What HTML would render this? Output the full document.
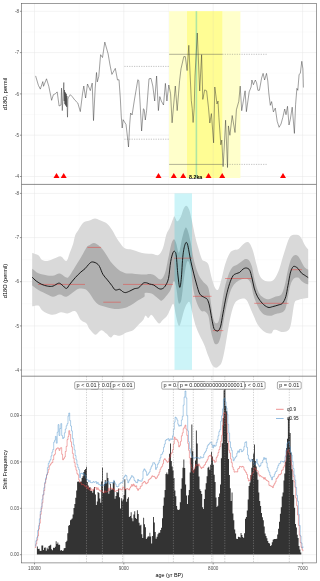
<!DOCTYPE html>
<html lang="en"><head><meta charset="utf-8"><title>d18O change-point analysis</title>
<style>html,body{margin:0;padding:0;background:#fff;}body{width:320px;height:581px;overflow:hidden;}svg{display:block;}text{font-family:'Liberation Sans', Arial, Helvetica, sans-serif;}</style></head><body>
<svg width="320" height="581" viewBox="0 0 320 581">
<rect x="0" y="0" width="320" height="581" fill="#ffffff"/>
<g id="panel1">
<line x1="79.2" y1="3.4" x2="79.2" y2="184.4" stroke="#f0f0f0" stroke-width="0.3"/>
<line x1="168.5" y1="3.4" x2="168.5" y2="184.4" stroke="#f0f0f0" stroke-width="0.3"/>
<line x1="257.9" y1="3.4" x2="257.9" y2="184.4" stroke="#f0f0f0" stroke-width="0.3"/>
<line x1="21.5" y1="32.0" x2="316.3" y2="32.0" stroke="#f0f0f0" stroke-width="0.3"/>
<line x1="21.5" y1="73.2" x2="316.3" y2="73.2" stroke="#f0f0f0" stroke-width="0.3"/>
<line x1="21.5" y1="114.5" x2="316.3" y2="114.5" stroke="#f0f0f0" stroke-width="0.3"/>
<line x1="21.5" y1="155.8" x2="316.3" y2="155.8" stroke="#f0f0f0" stroke-width="0.3"/>
<line x1="34.5" y1="3.4" x2="34.5" y2="184.4" stroke="#e6e6e6" stroke-width="0.5"/>
<line x1="123.8" y1="3.4" x2="123.8" y2="184.4" stroke="#e6e6e6" stroke-width="0.5"/>
<line x1="213.2" y1="3.4" x2="213.2" y2="184.4" stroke="#e6e6e6" stroke-width="0.5"/>
<line x1="302.6" y1="3.4" x2="302.6" y2="184.4" stroke="#e6e6e6" stroke-width="0.5"/>
<line x1="21.5" y1="11.3" x2="316.3" y2="11.3" stroke="#e6e6e6" stroke-width="0.5"/>
<line x1="21.5" y1="52.6" x2="316.3" y2="52.6" stroke="#e6e6e6" stroke-width="0.5"/>
<line x1="21.5" y1="93.9" x2="316.3" y2="93.9" stroke="#e6e6e6" stroke-width="0.5"/>
<line x1="21.5" y1="135.2" x2="316.3" y2="135.2" stroke="#e6e6e6" stroke-width="0.5"/>
<line x1="21.5" y1="176.5" x2="316.3" y2="176.5" stroke="#e6e6e6" stroke-width="0.5"/>
<rect x="169.1" y="11.2" width="71.3" height="166.8" fill="#ffffcb"/>
<rect x="187" y="11.2" width="35.3" height="166.8" fill="#fffd94"/>
<line x1="213.2" y1="11.2" x2="213.2" y2="178" stroke="#e9e7a0" stroke-width="0.5"/>
<line x1="196.4" y1="11.2" x2="196.4" y2="178" stroke="#b0e5a2" stroke-width="1.6"/>
<line x1="169.1" y1="54.3" x2="222.3" y2="54.3" stroke="#555" stroke-width="0.45"/>
<line x1="222.3" y1="54.3" x2="267" y2="54.3" stroke="#777" stroke-width="0.45" stroke-dasharray="1.2,1.2"/>
<line x1="169.1" y1="164.4" x2="222.3" y2="164.4" stroke="#555" stroke-width="0.45"/>
<line x1="222.3" y1="164.4" x2="267" y2="164.4" stroke="#777" stroke-width="0.45" stroke-dasharray="1.2,1.2"/>
<line x1="124.4" y1="66.4" x2="169.1" y2="66.4" stroke="#777" stroke-width="0.45" stroke-dasharray="1.2,1.2"/>
<line x1="124.4" y1="139.2" x2="169.1" y2="139.2" stroke="#777" stroke-width="0.45" stroke-dasharray="1.2,1.2"/>
<polyline points="35.6,75.9 38.4,85.3 40.3,89.1 42.8,81.6 43.5,86.3 46.5,78.8 48.8,86.3 51.6,100.3 53.4,94.7 55.3,93.8 57.2,91.9 59.1,106.0 61.0,105.0 61.5,88.1 62.3,110.6 63.8,82.5 64.2,101.0 64.5,90.0 64.8,104.0 65.1,92.0 65.4,105.0 65.7,93.0 66.0,106.0 66.3,94.0 66.6,107.0 66.9,96.0 67.2,108.0 67.5,117.2 67.9,99.0 68.4,97.5 70.3,94.7 72.2,96.6 75.0,100.3 77.8,103.0 80.3,111.6 82.5,93.8 83.8,86.0 85.6,98.0 87.5,84.0 90.3,90.6 92.2,83.1 93.5,120.6 95.2,88.0 96.5,72.5 97.3,81.9 98.8,76.3 100.6,54.7 102.5,57.5 104.8,42.1 108.1,53.8 110.0,65.0 111.9,74.4 115.3,68.4 117.5,80.0 119.0,79.7 120.3,98.0 121.3,117.0 122.2,128.0 123.1,119.7 126.0,124.4 127.8,140.0 128.5,147.0 129.7,124.4 130.6,113.0 132.1,115.0 134.4,100.0 136.3,88.8 137.8,79.7 138.8,80.6 140.3,107.0 141.6,131.0 143.4,108.8 144.2,109.5 145.3,120.0 146.6,110.6 149.0,78.8 151.0,78.4 152.8,86.0 154.7,101.0 156.6,76.0 158.4,110.6 159.8,96.6 161.3,101.0 163.5,105.0 165.4,83.4 166.9,101.0 168.8,85.0 170.6,93.8 172.1,122.8 175.3,86.0 177.2,110.6 179.6,80.6 181.0,68.8 183.8,56.6 185.3,56.6 187.1,70.6 188.8,45.3 191.3,100.6 192.2,108.4 193.1,122.5 194.2,108.0 195.0,76.0 197.3,33.0 199.7,91.0 201.6,54.7 202.8,99.4 204.7,89.9 206.6,90.8 208.5,107.9 209.8,123.0 211.4,113.6 213.6,142.9 214.8,87.0 217.0,104.0 218.0,101.0 218.9,117.3 220.8,144.8 221.8,140.0 223.1,166.6 224.0,151.4 225.6,120.2 227.5,167.5 228.4,125.9 229.9,135.3 232.2,115.5 235.0,132.5 236.4,109.8 238.8,101.3 240.2,86.1 241.7,110.7 245.1,90.8 246.4,111.7 249.2,91.8 251.1,87.0 251.9,80.0 253.4,84.7 255.3,80.0 256.6,82.8 257.9,90.3 259.4,90.3 261.6,78.1 263.1,73.4 264.6,80.0 266.5,73.4 267.8,81.0 268.8,93.1 270.3,105.3 271.6,101.6 273.4,111.9 275.3,108.1 277.2,121.3 279.1,127.3 281.0,124.0 282.8,117.5 284.7,109.0 286.0,114.7 287.5,106.3 289.0,125.0 290.3,119.4 292.2,107.2 294.4,133.4 295.6,104.4 296.9,88.4 297.8,90.3 299.1,74.4 300.3,73.4 301.8,61.3 302.9,68.8 303.4,87.5" fill="none" stroke="#2e2e2e" stroke-width="0.46" stroke-linejoin="round"/>
<polygon points="56.5,172.9 53.5,178.1 59.5,178.1" fill="#ff0000"/>
<polygon points="63.7,172.9 60.7,178.1 66.7,178.1" fill="#ff0000"/>
<polygon points="158.5,172.9 155.5,178.1 161.5,178.1" fill="#ff0000"/>
<polygon points="173.8,172.9 170.8,178.1 176.8,178.1" fill="#ff0000"/>
<polygon points="183.2,172.9 180.2,178.1 186.2,178.1" fill="#ff0000"/>
<polygon points="208.5,172.9 205.5,178.1 211.5,178.1" fill="#ff0000"/>
<polygon points="222.2,172.9 219.2,178.1 225.2,178.1" fill="#ff0000"/>
<polygon points="283.0,172.9 280.0,178.1 286.0,178.1" fill="#ff0000"/>
<text x="195.7" y="179.2" font-size="5.3" font-weight="bold" fill="#000" text-anchor="middle">8.2ka</text>
<line x1="19.9" y1="11.3" x2="21.5" y2="11.3" stroke="#333" stroke-width="0.5"/>
<text x="19.1" y="12.9" font-size="4.6" fill="#4d4d4d" text-anchor="end">-8</text>
<line x1="19.9" y1="52.6" x2="21.5" y2="52.6" stroke="#333" stroke-width="0.5"/>
<text x="19.1" y="54.2" font-size="4.6" fill="#4d4d4d" text-anchor="end">-7</text>
<line x1="19.9" y1="93.9" x2="21.5" y2="93.9" stroke="#333" stroke-width="0.5"/>
<text x="19.1" y="95.5" font-size="4.6" fill="#4d4d4d" text-anchor="end">-6</text>
<line x1="19.9" y1="135.2" x2="21.5" y2="135.2" stroke="#333" stroke-width="0.5"/>
<text x="19.1" y="136.8" font-size="4.6" fill="#4d4d4d" text-anchor="end">-5</text>
<line x1="19.9" y1="176.5" x2="21.5" y2="176.5" stroke="#333" stroke-width="0.5"/>
<text x="19.1" y="178.1" font-size="4.6" fill="#4d4d4d" text-anchor="end">-4</text>
<text transform="translate(7.4,94.0) rotate(-90)" font-size="5.65" fill="#000" text-anchor="middle">d18O, permil</text>
</g>
<g id="panel2">
<line x1="79.2" y1="184.4" x2="79.2" y2="376.2" stroke="#f0f0f0" stroke-width="0.3"/>
<line x1="168.5" y1="184.4" x2="168.5" y2="376.2" stroke="#f0f0f0" stroke-width="0.3"/>
<line x1="257.9" y1="184.4" x2="257.9" y2="376.2" stroke="#f0f0f0" stroke-width="0.3"/>
<line x1="21.5" y1="215.5" x2="316.3" y2="215.5" stroke="#f0f0f0" stroke-width="0.3"/>
<line x1="21.5" y1="259.6" x2="316.3" y2="259.6" stroke="#f0f0f0" stroke-width="0.3"/>
<line x1="21.5" y1="303.8" x2="316.3" y2="303.8" stroke="#f0f0f0" stroke-width="0.3"/>
<line x1="21.5" y1="347.9" x2="316.3" y2="347.9" stroke="#f0f0f0" stroke-width="0.3"/>
<line x1="34.5" y1="184.4" x2="34.5" y2="376.2" stroke="#e6e6e6" stroke-width="0.5"/>
<line x1="123.8" y1="184.4" x2="123.8" y2="376.2" stroke="#e6e6e6" stroke-width="0.5"/>
<line x1="213.2" y1="184.4" x2="213.2" y2="376.2" stroke="#e6e6e6" stroke-width="0.5"/>
<line x1="302.6" y1="184.4" x2="302.6" y2="376.2" stroke="#e6e6e6" stroke-width="0.5"/>
<line x1="21.5" y1="193.4" x2="316.3" y2="193.4" stroke="#e6e6e6" stroke-width="0.5"/>
<line x1="21.5" y1="237.6" x2="316.3" y2="237.6" stroke="#e6e6e6" stroke-width="0.5"/>
<line x1="21.5" y1="281.7" x2="316.3" y2="281.7" stroke="#e6e6e6" stroke-width="0.5"/>
<line x1="21.5" y1="325.9" x2="316.3" y2="325.9" stroke="#e6e6e6" stroke-width="0.5"/>
<line x1="21.5" y1="370.0" x2="316.3" y2="370.0" stroke="#e6e6e6" stroke-width="0.5"/>
<path d="M32.2,253.0 C33.2,253.4 36.8,254.2 38.4,255.3 C40.0,256.4 40.3,258.8 41.8,259.7 C43.3,260.6 45.3,261.1 47.4,260.9 C49.5,260.7 51.9,259.4 54.1,258.6 C56.3,257.9 58.8,256.0 60.8,256.4 C62.8,256.8 64.9,261.5 66.4,260.9 C67.9,260.3 68.6,255.8 69.7,253.0 C70.8,250.2 72.2,247.1 73.1,244.1 C74.0,241.1 74.4,237.5 75.3,235.1 C76.2,232.7 77.4,231.6 78.7,229.5 C80.0,227.4 81.4,224.3 83.2,222.8 C85.0,221.3 87.5,221.3 89.5,220.6 C91.5,219.9 93.1,218.4 95.0,218.4 C96.9,218.4 98.6,219.7 100.7,220.6 C102.8,221.5 105.6,222.5 107.4,224.0 C109.2,225.5 110.3,227.3 111.8,229.5 C113.3,231.7 114.8,235.0 116.3,237.4 C117.8,239.8 119.3,242.2 120.8,244.1 C122.3,246.0 123.4,247.7 125.3,248.6 C127.2,249.5 129.8,249.1 132.0,249.7 C134.2,250.2 136.5,251.3 138.7,251.9 C140.9,252.5 143.2,253.2 145.4,253.5 C147.6,253.8 149.5,253.6 151.7,253.8 C153.9,254.0 156.5,255.8 158.4,254.9 C160.3,254.0 161.6,251.6 162.9,248.2 C164.2,244.8 165.2,238.1 166.3,234.7 C167.4,231.3 168.5,230.6 169.6,228.0 C170.7,225.4 172.2,221.0 173.0,219.1 C173.8,217.2 173.8,216.0 174.5,216.4 C175.2,216.8 176.3,221.2 177.4,221.3 C178.5,221.4 179.8,218.9 180.8,216.8 C181.8,214.8 182.6,210.8 183.5,209.0 C184.4,207.2 185.4,205.5 186.4,205.7 C187.4,205.9 188.4,207.5 189.3,210.1 C190.2,212.7 191.0,216.8 192.0,221.3 C193.0,225.8 194.2,232.3 195.3,237.0 C196.4,241.7 197.6,245.6 198.7,249.3 C199.8,253.0 200.9,257.4 202.0,259.4 C203.1,261.4 203.9,260.4 205.0,261.3 C206.1,262.2 207.3,261.8 208.4,264.6 C209.5,267.4 210.6,274.1 211.7,278.0 C212.8,281.9 214.0,286.2 215.1,288.1 C216.2,290.0 217.3,290.9 218.4,289.2 C219.5,287.5 220.7,282.1 221.8,278.0 C222.9,273.9 223.8,268.7 225.1,264.6 C226.4,260.5 228.1,255.8 229.6,253.4 C231.1,251.0 232.6,250.8 234.1,250.1 C235.6,249.3 237.1,249.8 238.6,248.9 C240.1,248.0 241.7,245.6 243.0,244.5 C244.3,243.4 245.3,242.4 246.4,242.2 C247.5,242.0 248.6,241.9 249.7,243.4 C250.8,244.9 252.0,247.7 253.1,251.2 C254.2,254.7 255.4,260.5 256.5,264.6 C257.6,268.7 258.5,273.2 259.8,275.8 C261.1,278.4 262.6,279.6 264.3,280.5 C266.0,281.4 268.4,281.8 270.1,281.5 C271.8,281.2 273.1,280.7 274.6,278.7 C276.1,276.7 277.8,273.0 279.1,269.7 C280.4,266.4 281.3,262.3 282.4,258.6 C283.5,254.9 284.7,250.8 285.8,247.4 C286.9,244.0 288.0,240.5 289.1,238.4 C290.2,236.3 291.0,235.7 292.5,235.1 C294.0,234.5 296.6,234.5 298.1,235.1 C299.6,235.7 300.4,236.7 301.5,238.4 C302.6,240.1 303.7,243.2 304.8,245.1 C305.9,247.0 307.6,248.8 308.2,249.6 L308.2,297.7 C307.3,297.9 304.3,298.4 302.6,298.8 C300.9,299.2 299.4,299.3 298.1,299.9 C296.8,300.5 295.6,299.8 294.7,302.2 C293.8,304.6 293.2,310.4 292.5,314.5 C291.8,318.6 291.2,324.0 290.3,326.8 C289.4,329.6 288.4,330.5 286.9,331.3 C285.4,332.1 283.0,332.1 281.3,331.9 C279.6,331.7 278.1,330.4 276.8,330.1 C275.5,329.8 274.4,329.5 273.5,330.1 C272.6,330.7 272.6,333.1 271.3,333.5 C270.0,333.9 267.4,333.1 265.7,332.4 C264.0,331.6 262.5,330.3 261.2,329.0 C259.9,327.7 258.8,326.5 257.6,324.5 C256.4,322.5 255.3,319.5 254.2,317.0 C253.1,314.5 252.0,312.0 250.9,309.4 C249.8,306.8 248.6,303.3 247.5,301.5 C246.4,299.7 245.4,299.0 244.1,298.6 C242.8,298.2 241.2,298.6 239.7,299.3 C238.2,300.0 236.5,300.6 235.2,302.6 C233.9,304.7 232.9,307.5 231.8,311.6 C230.7,315.7 229.6,321.2 228.5,327.2 C227.4,333.2 226.2,341.6 225.1,347.4 C224.0,353.2 222.9,358.7 221.8,361.9 C220.7,365.1 219.5,365.5 218.4,366.4 C217.3,367.3 216.2,367.9 215.1,367.5 C214.0,367.1 212.8,366.1 211.7,364.2 C210.6,362.3 209.7,359.6 208.4,356.3 C207.1,353.0 205.6,347.8 204.1,344.4 C202.6,340.9 201.2,338.9 199.7,335.6 C198.2,332.3 196.6,328.7 195.3,324.7 C194.0,320.7 192.9,315.2 192.0,311.6 C191.1,308.0 190.6,304.3 189.9,302.8 C189.2,301.3 188.6,301.7 187.7,302.8 C186.8,303.9 185.5,306.3 184.4,309.4 C183.3,312.5 181.9,318.7 181.1,321.4 C180.3,324.1 179.9,325.4 179.4,325.8 C178.9,326.2 178.4,325.6 177.8,323.6 C177.2,321.6 176.3,317.1 175.6,313.8 C174.9,310.5 174.3,304.6 173.4,303.9 C172.5,303.2 171.3,307.4 170.2,309.4 C169.1,311.4 168.2,314.2 166.9,316.0 C165.6,317.8 163.8,319.0 162.5,320.3 C161.2,321.6 160.3,323.6 159.2,323.6 C158.1,323.6 157.2,321.8 155.9,320.3 C154.6,318.9 152.9,315.3 151.6,314.9 C150.3,314.5 149.3,318.0 148.3,318.1 C147.3,318.2 146.3,315.2 145.5,315.5 C144.7,315.8 144.3,318.6 143.2,320.1 C142.1,321.6 140.4,322.9 138.7,324.6 C137.0,326.3 135.1,328.9 133.1,330.2 C131.1,331.5 128.6,331.5 126.4,332.4 C124.2,333.3 121.8,335.4 119.7,335.8 C117.7,336.2 115.6,334.4 114.1,334.7 C112.6,335.0 112.0,337.8 110.7,337.6 C109.4,337.4 107.8,334.8 106.3,333.6 C104.8,332.4 103.1,330.4 101.8,330.2 C100.5,330.0 99.5,331.6 98.4,332.4 C97.3,333.1 96.5,335.2 95.0,334.7 C93.5,334.1 90.9,331.0 89.5,329.1 C88.1,327.2 87.9,325.0 86.5,323.5 C85.1,322.0 82.8,322.2 80.9,320.1 C79.0,318.1 77.5,312.3 75.3,311.2 C73.1,310.1 69.9,313.2 67.5,313.4 C65.1,313.6 63.0,312.1 60.8,312.3 C58.6,312.5 56.3,314.4 54.1,314.6 C51.9,314.8 49.5,314.2 47.4,313.4 C45.3,312.6 43.3,311.3 41.8,310.0 C40.3,308.7 40.0,306.2 38.4,305.6 C36.8,305.0 33.2,306.2 32.2,306.3 Z" fill="#d9d9d9"/>
<path d="M32.2,268.7 C33.2,269.4 35.9,272.1 38.4,273.2 C40.9,274.3 44.8,275.0 47.4,275.4 C50.0,275.8 52.0,275.7 54.1,275.4 C56.2,275.1 57.7,273.2 59.7,273.6 C61.8,274.0 64.7,277.3 66.4,277.6 C68.1,277.9 68.2,277.2 69.7,275.4 C71.2,273.5 73.4,269.5 75.3,266.5 C77.2,263.5 79.0,260.7 80.9,257.5 C82.8,254.3 85.1,249.5 86.5,247.4 C87.9,245.3 88.3,245.9 89.5,245.2 C90.7,244.5 92.4,243.0 93.9,243.0 C95.4,243.0 96.9,244.1 98.4,245.2 C99.9,246.3 101.4,247.8 102.9,249.7 C104.4,251.6 105.9,254.2 107.4,256.4 C108.9,258.6 109.9,260.9 111.8,263.1 C113.7,265.3 116.3,268.1 118.6,269.8 C120.8,271.5 123.1,272.6 125.3,273.2 C127.5,273.8 129.8,273.4 132.0,273.6 C134.2,273.8 136.5,274.2 138.7,274.3 C140.9,274.4 143.6,274.6 145.4,274.5 C147.2,274.4 148.1,273.8 149.5,273.9 C150.9,274.0 152.0,274.1 153.9,275.0 C155.8,275.9 158.8,279.9 160.7,279.5 C162.6,279.1 163.8,276.5 165.1,272.8 C166.4,269.1 167.4,262.0 168.5,257.1 C169.6,252.3 170.5,246.7 171.4,243.7 C172.3,240.7 173.3,239.2 174.1,239.2 C174.9,239.2 175.5,241.5 176.3,243.7 C177.1,245.9 178.1,253.3 179.0,252.6 C179.9,251.8 180.8,243.3 181.9,239.2 C183.0,235.1 184.3,229.3 185.3,228.0 C186.3,226.7 187.1,228.8 188.0,231.4 C188.9,234.0 189.9,238.7 190.9,243.7 C191.9,248.7 192.9,256.4 194.2,261.6 C195.5,266.8 197.2,271.6 198.7,275.0 C200.2,278.4 202.1,280.3 203.2,281.7 C204.2,283.1 204.1,282.5 205.0,283.6 C205.9,284.7 207.5,285.3 208.4,288.1 C209.3,290.9 209.9,295.7 210.6,300.4 C211.3,305.1 212.1,312.4 212.8,316.1 C213.6,319.8 214.2,321.9 215.1,322.8 C216.0,323.7 217.5,323.6 218.4,321.7 C219.3,319.8 219.8,316.6 220.7,311.6 C221.6,306.6 222.9,297.1 224.0,291.5 C225.1,285.9 226.1,281.9 227.4,278.0 C228.7,274.1 230.1,270.2 231.8,268.0 C233.5,265.8 235.7,265.7 237.4,264.6 C239.1,263.5 240.6,262.2 241.9,261.3 C243.2,260.4 244.2,259.2 245.3,259.0 C246.4,258.8 247.5,258.8 248.6,260.1 C249.7,261.4 251.0,263.4 252.0,266.8 C253.0,270.2 253.6,276.0 254.7,280.3 C255.8,284.6 257.3,289.7 258.7,292.6 C260.1,295.5 261.5,296.4 263.2,297.5 C264.9,298.6 266.7,299.4 268.8,299.3 C270.9,299.2 273.6,297.4 275.7,296.6 C277.8,295.8 279.8,296.3 281.3,294.4 C282.8,292.5 283.6,289.5 284.7,285.4 C285.8,281.3 286.9,274.2 288.0,269.7 C289.1,265.2 290.3,261.0 291.4,258.6 C292.5,256.2 293.6,255.6 294.7,255.2 C295.8,254.8 297.0,255.2 298.1,256.3 C299.2,257.4 300.4,260.0 301.5,261.9 C302.6,263.8 303.7,266.2 304.8,267.5 C305.9,268.8 307.6,269.3 308.2,269.7 L308.2,284.3 C307.6,284.1 305.9,283.8 304.8,283.2 C303.7,282.6 302.6,281.8 301.5,280.9 C300.4,280.0 299.4,278.0 298.1,277.6 C296.8,277.2 294.9,277.4 293.6,278.7 C292.3,280.0 291.2,282.4 290.3,285.4 C289.4,288.4 288.8,292.9 288.0,296.6 C287.2,300.3 286.7,305.2 285.8,307.8 C284.9,310.4 284.1,311.2 282.4,312.2 C280.7,313.2 277.8,313.3 275.7,313.9 C273.6,314.5 272.0,315.7 270.1,315.8 C268.2,315.9 266.2,315.6 264.5,314.7 C262.8,313.8 261.4,312.4 260.1,310.5 C258.8,308.6 257.7,306.3 256.5,303.5 C255.3,300.7 254.0,297.0 253.1,293.7 C252.2,290.4 251.8,286.0 250.9,283.6 C250.0,281.2 248.8,279.9 247.5,279.1 C246.2,278.4 244.7,278.7 243.0,279.1 C241.3,279.5 239.1,280.3 237.4,281.4 C235.7,282.5 234.3,283.8 233.0,285.9 C231.7,287.9 230.7,290.2 229.6,293.7 C228.5,297.2 227.4,301.9 226.3,307.1 C225.2,312.3 223.8,320.1 222.9,325.0 C222.0,329.9 221.4,333.2 220.7,336.2 C219.9,339.2 219.3,341.6 218.4,342.9 C217.5,344.2 216.0,344.8 215.1,344.0 C214.2,343.2 213.6,340.8 212.8,338.4 C212.1,336.0 211.3,333.2 210.6,329.5 C209.9,325.8 209.3,319.1 208.4,316.1 C207.5,313.1 206.2,312.5 205.0,311.6 C203.8,310.7 202.4,312.4 201.0,310.8 C199.6,309.2 197.8,305.6 196.5,301.9 C195.2,298.2 194.0,293.6 193.1,288.4 C192.2,283.2 191.7,275.0 190.9,270.5 C190.2,266.0 189.3,262.7 188.6,261.6 C187.8,260.5 187.2,260.5 186.4,263.8 C185.6,267.1 184.5,275.4 183.7,281.3 C182.9,287.2 182.2,295.3 181.5,299.0 C180.8,302.7 180.2,303.0 179.6,303.4 C179.0,303.8 178.8,304.1 178.2,301.2 C177.6,298.2 176.7,289.0 175.9,285.7 C175.2,282.4 174.6,280.6 173.7,281.3 C172.8,282.1 171.7,287.7 170.4,290.2 C169.1,292.7 167.5,294.6 166.0,296.3 C164.5,298.1 162.9,300.3 161.6,300.7 C160.3,301.1 159.8,299.7 158.1,298.5 C156.4,297.3 153.8,294.4 151.6,293.5 C149.4,292.6 146.2,292.4 145.0,292.9 C143.8,293.4 145.4,295.5 144.3,296.7 C143.2,297.9 140.8,298.7 138.7,300.0 C136.6,301.3 134.2,303.2 132.0,304.5 C129.8,305.8 127.5,307.1 125.3,307.8 C123.1,308.6 120.8,308.9 118.6,309.0 C116.3,309.1 114.0,308.9 111.8,308.5 C109.5,308.1 107.3,307.4 105.1,306.7 C102.9,306.0 100.3,305.6 98.4,304.5 C96.5,303.4 95.4,301.9 93.9,300.0 C92.4,298.1 90.9,295.1 89.5,293.3 C88.1,291.5 87.2,290.1 85.4,289.3 C83.6,288.6 80.8,288.3 78.7,288.8 C76.7,289.3 75.1,290.9 73.1,292.2 C71.0,293.5 68.6,296.3 66.4,296.7 C64.2,297.1 61.9,294.4 59.7,294.4 C57.5,294.4 55.0,296.7 53.0,296.7 C51.0,296.7 49.8,295.5 47.4,294.4 C45.0,293.3 40.9,291.5 38.4,290.0 C35.9,288.5 33.2,286.2 32.2,285.5 Z" fill="#b0b0b0"/>
<rect x="174.5" y="193.4" width="17.5" height="176.4" fill="#00c8dc" fill-opacity="0.2"/>
<line x1="38.0" y1="284.4" x2="85.0" y2="284.4" stroke="#e8413c" stroke-width="0.5"/>
<line x1="87.4" y1="247.4" x2="101.1" y2="247.4" stroke="#e8413c" stroke-width="0.5"/>
<line x1="103.3" y1="302.2" x2="120.8" y2="302.2" stroke="#e8413c" stroke-width="0.5"/>
<line x1="123.0" y1="284.4" x2="173.0" y2="284.4" stroke="#e8413c" stroke-width="0.5"/>
<line x1="174.0" y1="258.2" x2="192.0" y2="258.2" stroke="#e8413c" stroke-width="0.5"/>
<line x1="193.0" y1="296.3" x2="211.5" y2="296.3" stroke="#e8413c" stroke-width="0.5"/>
<line x1="212.8" y1="330.6" x2="223.3" y2="330.6" stroke="#e8413c" stroke-width="0.5"/>
<line x1="225.1" y1="278.5" x2="251.5" y2="278.5" stroke="#e8413c" stroke-width="0.5"/>
<line x1="254.3" y1="303.3" x2="288.5" y2="303.3" stroke="#e8413c" stroke-width="0.5"/>
<line x1="290.7" y1="269.7" x2="301.9" y2="269.7" stroke="#e8413c" stroke-width="0.5"/>
<path d="M32.2,277.2 C32.9,277.8 34.6,279.8 36.2,281.0 C37.8,282.2 39.9,283.5 41.8,284.4 C43.7,285.2 45.5,285.8 47.4,286.1 C49.3,286.4 51.1,286.6 53.0,286.1 C54.9,285.6 57.1,283.4 58.6,283.2 C60.1,283.0 60.6,283.9 61.9,284.8 C63.2,285.7 65.1,288.5 66.4,288.4 C67.7,288.3 68.2,286.2 69.7,284.4 C71.2,282.6 73.4,279.7 75.3,277.6 C77.2,275.5 79.3,273.5 80.9,272.0 C82.5,270.5 83.8,269.9 85.0,268.7 C86.2,267.5 87.3,265.8 88.4,264.7 C89.5,263.6 90.4,262.3 91.7,262.0 C93.0,261.7 94.9,262.4 96.2,263.1 C97.5,263.9 98.4,264.6 99.5,266.5 C100.6,268.4 101.6,272.1 102.9,274.3 C104.2,276.5 105.9,278.0 107.4,279.9 C108.9,281.8 110.5,283.8 111.8,285.5 C113.1,287.2 113.9,289.3 115.2,289.9 C116.5,290.5 118.6,289.1 119.7,289.3 C120.8,289.5 121.0,290.6 121.9,291.1 C122.8,291.7 124.0,292.6 125.3,292.6 C126.6,292.6 128.2,291.7 129.7,291.1 C131.2,290.5 132.7,289.4 134.2,288.8 C135.7,288.2 137.2,288.6 138.7,287.7 C140.2,286.8 141.9,284.0 143.2,283.2 C144.5,282.4 145.4,282.7 146.5,282.8 C147.6,282.9 148.3,283.6 149.5,284.0 C150.7,284.4 152.4,284.4 153.9,285.1 C155.4,285.8 157.1,287.8 158.4,288.4 C159.7,289.0 160.7,289.3 161.8,288.9 C162.9,288.5 164.0,287.9 165.1,286.2 C166.2,284.4 167.6,282.5 168.5,278.4 C169.4,274.3 169.9,265.9 170.7,261.6 C171.4,257.3 172.3,254.3 173.0,252.6 C173.7,250.9 174.2,250.9 174.8,251.5 C175.4,252.1 175.8,252.1 176.3,256.0 C176.8,259.9 177.3,269.8 177.9,275.0 C178.5,280.2 179.1,286.6 179.7,287.3 C180.2,288.1 180.6,284.9 181.2,279.5 C181.8,274.1 182.3,260.9 183.0,254.9 C183.7,248.9 184.6,245.6 185.3,243.7 C186.0,241.8 186.6,242.3 187.1,243.2 C187.6,244.1 188.0,246.2 188.6,249.3 C189.2,252.4 190.0,257.5 190.9,261.6 C191.8,265.7 192.9,270.2 193.8,273.9 C194.7,277.6 195.5,280.6 196.5,284.0 C197.5,287.4 198.5,291.8 199.8,294.0 C201.1,296.2 203.1,296.5 204.3,297.4 C205.5,298.3 206.3,297.9 207.2,299.3 C208.1,300.7 208.8,302.8 209.5,306.0 C210.2,309.2 211.0,314.6 211.7,318.3 C212.4,322.0 213.2,326.3 213.9,328.4 C214.7,330.4 215.4,330.2 216.2,330.6 C216.9,331.0 217.7,331.4 218.4,330.6 C219.2,329.9 219.9,328.9 220.7,326.1 C221.4,323.3 222.0,318.8 222.9,313.8 C223.8,308.8 225.2,300.9 226.3,295.9 C227.4,290.9 228.5,287.0 229.6,283.6 C230.7,280.2 231.9,277.5 233.0,275.8 C234.1,274.1 235.2,274.2 236.3,273.6 C237.4,273.0 238.6,273.1 239.7,272.4 C240.8,271.6 241.9,269.8 243.0,269.1 C244.1,268.4 245.3,267.8 246.4,268.0 C247.5,268.2 248.8,268.5 249.7,270.2 C250.6,271.9 251.2,275.0 252.0,278.0 C252.8,281.0 253.3,285.0 254.2,288.1 C255.1,291.2 256.2,294.3 257.6,296.8 C259.0,299.3 260.6,301.6 262.3,303.3 C264.0,305.1 266.2,306.7 267.9,307.3 C269.6,307.9 270.7,307.1 272.4,306.7 C274.1,306.3 276.3,305.7 278.0,305.1 C279.7,304.5 281.1,304.7 282.4,303.3 C283.7,301.9 284.9,299.6 285.8,296.6 C286.7,293.6 287.2,289.3 288.0,285.4 C288.8,281.5 289.6,276.1 290.3,273.1 C291.1,270.1 291.8,268.6 292.5,267.5 C293.2,266.4 293.8,266.2 294.7,266.4 C295.6,266.6 297.0,267.5 298.1,268.6 C299.2,269.7 300.4,272.0 301.5,273.1 C302.6,274.2 303.7,274.6 304.8,275.3 C305.9,276.1 307.6,277.2 308.2,277.6" fill="none" stroke="#0a0a0a" stroke-width="0.9" stroke-linejoin="round"/>

<line x1="19.9" y1="193.4" x2="21.5" y2="193.4" stroke="#333" stroke-width="0.5"/>
<text x="19.1" y="195.0" font-size="4.6" fill="#4d4d4d" text-anchor="end">-8</text>
<line x1="19.9" y1="237.6" x2="21.5" y2="237.6" stroke="#333" stroke-width="0.5"/>
<text x="19.1" y="239.2" font-size="4.6" fill="#4d4d4d" text-anchor="end">-7</text>
<line x1="19.9" y1="281.7" x2="21.5" y2="281.7" stroke="#333" stroke-width="0.5"/>
<text x="19.1" y="283.3" font-size="4.6" fill="#4d4d4d" text-anchor="end">-6</text>
<line x1="19.9" y1="325.9" x2="21.5" y2="325.9" stroke="#333" stroke-width="0.5"/>
<text x="19.1" y="327.5" font-size="4.6" fill="#4d4d4d" text-anchor="end">-5</text>
<line x1="19.9" y1="370.0" x2="21.5" y2="370.0" stroke="#333" stroke-width="0.5"/>
<text x="19.1" y="371.6" font-size="4.6" fill="#4d4d4d" text-anchor="end">-4</text>
<text transform="translate(7.4,281.0) rotate(-90)" font-size="5.65" fill="#000" text-anchor="middle">d18O (permil)</text>
</g>
<g id="panel3">
<line x1="79.2" y1="376.2" x2="79.2" y2="562.9" stroke="#f0f0f0" stroke-width="0.3"/>
<line x1="168.5" y1="376.2" x2="168.5" y2="562.9" stroke="#f0f0f0" stroke-width="0.3"/>
<line x1="257.9" y1="376.2" x2="257.9" y2="562.9" stroke="#f0f0f0" stroke-width="0.3"/>
<line x1="21.5" y1="438.7" x2="316.3" y2="438.7" stroke="#f0f0f0" stroke-width="0.3"/>
<line x1="21.5" y1="485.1" x2="316.3" y2="485.1" stroke="#f0f0f0" stroke-width="0.3"/>
<line x1="21.5" y1="531.5" x2="316.3" y2="531.5" stroke="#f0f0f0" stroke-width="0.3"/>
<line x1="34.5" y1="376.2" x2="34.5" y2="562.9" stroke="#e6e6e6" stroke-width="0.5"/>
<line x1="123.8" y1="376.2" x2="123.8" y2="562.9" stroke="#e6e6e6" stroke-width="0.5"/>
<line x1="213.2" y1="376.2" x2="213.2" y2="562.9" stroke="#e6e6e6" stroke-width="0.5"/>
<line x1="302.6" y1="376.2" x2="302.6" y2="562.9" stroke="#e6e6e6" stroke-width="0.5"/>
<line x1="21.5" y1="415.5" x2="316.3" y2="415.5" stroke="#e6e6e6" stroke-width="0.5"/>
<line x1="21.5" y1="461.9" x2="316.3" y2="461.9" stroke="#e6e6e6" stroke-width="0.5"/>
<line x1="21.5" y1="508.3" x2="316.3" y2="508.3" stroke="#e6e6e6" stroke-width="0.5"/>
<line x1="21.5" y1="554.7" x2="316.3" y2="554.7" stroke="#e6e6e6" stroke-width="0.5"/>
<polygon points="36.9,554.6 36.9,546.4 37.8,546.4 37.8,549.0 38.7,549.0 38.7,548.8 39.6,548.8 39.6,550.7 40.5,550.7 40.5,550.9 41.4,550.9 41.4,545.5 42.3,545.5 42.3,545.6 43.2,545.6 43.2,550.1 44.0,550.1 44.0,547.7 44.9,547.7 44.9,547.4 45.8,547.4 45.8,550.8 46.7,550.8 46.7,547.8 47.6,547.8 47.6,549.2 48.5,549.2 48.5,546.0 49.4,546.0 49.4,545.6 50.3,545.6 50.3,544.7 51.2,544.7 51.2,549.3 52.1,549.3 52.1,550.3 53.0,550.3 53.0,547.7 53.9,547.7 53.9,548.0 54.8,548.0 54.8,546.8 55.7,546.8 55.7,541.3 56.6,541.3 56.6,544.0 57.4,544.0 57.4,542.5 58.3,542.5 58.3,544.8 59.2,544.8 59.2,544.8 60.1,544.8 60.1,550.4 61.0,550.4 61.0,550.1 61.9,550.1 61.9,551.0 62.8,551.0 62.8,550.5 63.7,550.5 63.7,548.3 64.6,548.3 64.6,548.0 65.5,548.0 65.5,542.1 66.4,542.1 66.4,540.7 67.3,540.7 67.3,533.3 68.2,533.3 68.2,525.8 69.1,525.8 69.1,525.0 70.0,525.0 70.0,520.2 70.8,520.2 70.8,519.5 71.7,519.5 71.7,518.4 72.6,518.4 72.6,514.5 73.5,514.5 73.5,508.1 74.4,508.1 74.4,504.1 75.3,504.1 75.3,497.7 76.2,497.7 76.2,490.5 77.1,490.5 77.1,481.8 78.0,481.8 78.0,481.4 78.9,481.4 78.9,482.2 79.8,482.2 79.8,481.8 80.7,481.8 80.7,481.4 81.6,481.4 81.6,478.1 82.5,478.1 82.5,476.2 83.4,476.2 83.4,471.9 84.2,471.9 84.2,469.9 85.1,469.9 85.1,469.0 86.0,469.0 86.0,466.7 86.9,466.7 86.9,482.0 87.8,482.0 87.8,485.4 88.7,485.4 88.7,487.4 89.6,487.4 89.6,487.3 90.5,487.3 90.5,490.9 91.4,490.9 91.4,490.9 92.3,490.9 92.3,492.7 93.2,492.7 93.2,489.6 94.1,489.6 94.1,487.0 95.0,487.0 95.0,494.4 95.9,494.4 95.9,504.9 96.8,504.9 96.8,501.6 97.6,501.6 97.6,492.1 98.5,492.1 98.5,492.9 99.4,492.9 99.4,498.6 100.3,498.6 100.3,502.8 101.2,502.8 101.2,481.5 102.1,481.5 102.1,467.6 103.0,467.6 103.0,492.9 103.9,492.9 103.9,484.1 104.8,484.1 104.8,480.0 105.7,480.0 105.7,483.2 106.6,483.2 106.6,472.8 107.5,472.8 107.5,478.0 108.4,478.0 108.4,493.8 109.3,493.8 109.3,490.8 110.2,490.8 110.2,483.8 111.0,483.8 111.0,489.5 111.9,489.5 111.9,489.3 112.8,489.3 112.8,482.5 113.7,482.5 113.7,481.0 114.6,481.0 114.6,498.8 115.5,498.8 115.5,496.0 116.4,496.0 116.4,492.0 117.3,492.0 117.3,492.4 118.2,492.4 118.2,488.6 119.1,488.6 119.1,497.3 120.0,497.3 120.0,508.5 120.9,508.5 120.9,498.2 121.8,498.2 121.8,500.8 122.7,500.8 122.7,499.6 123.6,499.6 123.6,495.1 124.4,495.1 124.4,479.2 125.3,479.2 125.3,489.1 126.2,489.1 126.2,501.7 127.1,501.7 127.1,498.8 128.0,498.8 128.0,497.2 128.9,497.2 128.9,517.0 129.8,517.0 129.8,515.9 130.7,515.9 130.7,512.2 131.6,512.2 131.6,518.3 132.5,518.3 132.5,521.2 133.4,521.2 133.4,514.4 134.3,514.4 134.3,511.2 135.2,511.2 135.2,517.9 136.1,517.9 136.1,518.9 136.9,518.9 136.9,510.2 137.8,510.2 137.8,514.1 138.7,514.1 138.7,522.8 139.6,522.8 139.6,525.5 140.5,525.5 140.5,524.8 141.4,524.8 141.4,534.3 142.3,534.3 142.3,537.9 143.2,537.9 143.2,517.7 144.1,517.7 144.1,524.3 145.0,524.3 145.0,527.3 145.9,527.3 145.9,539.0 146.8,539.0 146.8,537.4 147.7,537.4 147.7,536.2 148.6,536.2 148.6,536.4 149.5,536.4 149.5,532.8 150.3,532.8 150.3,536.4 151.2,536.4 151.2,543.5 152.1,543.5 152.1,536.0 153.0,536.0 153.0,516.9 153.9,516.9 153.9,522.5 154.8,522.5 154.8,532.0 155.7,532.0 155.7,538.8 156.6,538.8 156.6,536.8 157.5,536.8 157.5,534.3 158.4,534.3 158.4,532.8 159.3,532.8 159.3,532.7 160.2,532.7 160.2,530.1 161.1,530.1 161.1,527.7 162.0,527.7 162.0,518.3 162.9,518.3 162.9,505.8 163.7,505.8 163.7,497.6 164.6,497.6 164.6,490.0 165.5,490.0 165.5,473.9 166.4,473.9 166.4,472.6 167.3,472.6 167.3,474.2 168.2,474.2 168.2,469.1 169.1,469.1 169.1,453.8 170.0,453.8 170.0,443.5 170.9,443.5 170.9,460.9 171.8,460.9 171.8,466.6 172.7,466.6 172.7,470.5 173.6,470.5 173.6,477.9 174.5,477.9 174.5,490.4 175.4,490.4 175.4,496.2 176.3,496.2 176.3,506.0 177.1,506.0 177.1,509.5 178.0,509.5 178.0,509.9 178.9,509.9 178.9,509.6 179.8,509.6 179.8,502.2 180.7,502.2 180.7,488.7 181.6,488.7 181.6,478.3 182.5,478.3 182.5,467.7 183.4,467.7 183.4,459.4 184.3,459.4 184.3,468.0 185.2,468.0 185.2,484.5 186.1,484.5 186.1,495.6 187.0,495.6 187.0,504.0 187.9,504.0 187.9,495.2 188.8,495.2 188.8,490.0 189.7,490.0 189.7,472.4 190.5,472.4 190.5,457.9 191.4,457.9 191.4,424.4 192.3,424.4 192.3,451.3 193.2,451.3 193.2,470.0 194.1,470.0 194.1,468.8 195.0,468.8 195.0,460.5 195.9,460.5 195.9,430.6 196.8,430.6 196.8,443.4 197.7,443.4 197.7,464.4 198.6,464.4 198.6,476.4 199.5,476.4 199.5,489.3 200.4,489.3 200.4,491.1 201.3,491.1 201.3,494.0 202.2,494.0 202.2,507.2 203.1,507.2 203.1,509.1 203.9,509.1 203.9,498.9 204.8,498.9 204.8,489.4 205.7,489.4 205.7,483.2 206.6,483.2 206.6,476.3 207.5,476.3 207.5,467.7 208.4,467.7 208.4,466.7 209.3,466.7 209.3,469.8 210.2,469.8 210.2,464.7 211.1,464.7 211.1,451.7 212.0,451.7 212.0,456.4 212.9,456.4 212.9,464.7 213.8,464.7 213.8,474.8 214.7,474.8 214.7,481.9 215.6,481.9 215.6,497.6 216.5,497.6 216.5,507.1 217.3,507.1 217.3,505.8 218.2,505.8 218.2,497.0 219.1,497.0 219.1,493.5 220.0,493.5 220.0,484.6 220.9,484.6 220.9,458.3 221.8,458.3 221.8,443.2 222.7,443.2 222.7,418.0 223.6,418.0 223.6,390.3 224.5,390.3 224.5,387.5 225.4,387.5 225.4,405.9 226.3,405.9 226.3,411.3 227.2,411.3 227.2,442.9 228.1,442.9 228.1,459.1 229.0,459.1 229.0,474.9 229.9,474.9 229.9,488.3 230.7,488.3 230.7,501.0 231.6,501.0 231.6,492.4 232.5,492.4 232.5,513.6 233.4,513.6 233.4,520.2 234.3,520.2 234.3,529.5 235.2,529.5 235.2,533.5 236.1,533.5 236.1,538.7 237.0,538.7 237.0,538.9 237.9,538.9 237.9,536.8 238.8,536.8 238.8,536.9 239.7,536.9 239.7,537.5 240.6,537.5 240.6,533.1 241.5,533.1 241.5,535.1 242.4,535.1 242.4,537.1 243.3,537.1 243.3,538.0 244.1,538.0 244.1,533.2 245.0,533.2 245.0,518.7 245.9,518.7 245.9,517.0 246.8,517.0 246.8,510.6 247.7,510.6 247.7,499.6 248.6,499.6 248.6,486.1 249.5,486.1 249.5,482.5 250.4,482.5 250.4,474.9 251.3,474.9 251.3,467.8 252.2,467.8 252.2,459.0 253.1,459.0 253.1,453.5 254.0,453.5 254.0,444.4 254.9,444.4 254.9,460.9 255.8,460.9 255.8,466.6 256.7,466.6 256.7,472.3 257.5,472.3 257.5,479.7 258.4,479.7 258.4,492.4 259.3,492.4 259.3,501.0 260.2,501.0 260.2,506.1 261.1,506.1 261.1,513.1 262.0,513.1 262.0,517.2 262.9,517.2 262.9,520.3 263.8,520.3 263.8,526.6 264.7,526.6 264.7,533.4 265.6,533.4 265.6,536.0 266.5,536.0 266.5,538.2 267.4,538.2 267.4,541.0 268.3,541.0 268.3,543.1 269.2,543.1 269.2,543.4 270.1,543.4 270.1,546.0 270.9,546.0 270.9,545.3 271.8,545.3 271.8,542.3 272.7,542.3 272.7,539.7 273.6,539.7 273.6,539.1 274.5,539.1 274.5,539.1 275.4,539.1 275.4,539.0 276.3,539.0 276.3,538.7 277.2,538.7 277.2,534.5 278.1,534.5 278.1,528.8 279.0,528.8 279.0,521.7 279.9,521.7 279.9,513.7 280.8,513.7 280.8,507.3 281.7,507.3 281.7,496.5 282.6,496.5 282.6,492.6 283.5,492.6 283.5,480.6 284.3,480.6 284.3,473.4 285.2,473.4 285.2,461.6 286.1,461.6 286.1,447.9 287.0,447.9 287.0,438.8 287.9,438.8 287.9,418.5 288.8,418.5 288.8,416.6 289.7,416.6 289.7,433.1 290.6,433.1 290.6,452.7 291.5,452.7 291.5,469.3 292.4,469.3 292.4,480.1 293.3,480.1 293.3,495.1 294.2,495.1 294.2,507.7 295.1,507.7 295.1,524.0 296.0,524.0 296.0,527.4 296.9,527.4 296.9,534.7 297.7,534.7 297.7,537.9 298.6,537.9 298.6,545.9 299.5,545.9 299.5,549.4 300.4,549.4 300.4,552.5 301.3,552.5 301.3,554.6" fill="#333333"/>
<polyline points="34.9,547.5 35.8,547.5 35.8,543.9 36.7,543.9 36.7,540.1 37.6,540.1 37.6,535.9 38.5,535.9 38.5,529.1 39.4,529.1 39.4,523.2 40.3,523.2 40.3,514.4 41.2,514.4 41.2,508.6 42.0,508.6 42.0,502.8 42.9,502.8 42.9,495.1 43.8,495.1 43.8,490.5 44.7,490.5 44.7,483.4 45.6,483.4 45.6,479.3 46.5,479.3 46.5,475.1 47.4,475.1 47.4,472.7 48.3,472.7 48.3,469.6 49.2,469.6 49.2,465.9 50.1,465.9 50.1,464.6 51.0,464.6 51.0,463.1 51.9,463.1 51.9,462.6 52.8,462.6 52.8,459.5 53.7,459.5 53.7,455.2 54.6,455.2 54.6,454.2 55.4,454.2 55.4,449.9 56.3,449.9 56.3,448.6 57.2,448.6 57.2,447.9 58.1,447.9 58.1,448.1 59.0,448.1 59.0,450.4 59.9,450.4 59.9,448.2 60.8,448.2 60.8,447.7 61.7,447.7 61.7,454.3 62.6,454.3 62.6,459.8 63.5,459.8 63.5,458.6 64.4,458.6 64.4,457.0 65.3,457.0 65.3,451.5 66.2,451.5 66.2,446.4 67.1,446.4 67.1,439.6 68.0,439.6 68.0,436.4 68.8,436.4 68.8,430.7 69.7,430.7 69.7,434.5 70.6,434.5 70.6,441.8 71.5,441.8 71.5,446.8 72.4,446.8 72.4,453.4 73.3,453.4 73.3,458.2 74.2,458.2 74.2,462.6 75.1,462.6 75.1,466.8 76.0,466.8 76.0,470.2 76.9,470.2 76.9,473.7 77.8,473.7 77.8,474.9 78.7,474.9 78.7,479.9 79.6,479.9 79.6,482.3 80.5,482.3 80.5,482.8 81.4,482.8 81.4,484.7 82.2,484.7 82.2,484.4 83.1,484.4 83.1,484.6 84.0,484.6 84.0,485.6 84.9,485.6 84.9,486.8 85.8,486.8 85.8,485.6 86.7,485.6 86.7,488.6 87.6,488.6 87.6,486.8 88.5,486.8 88.5,489.3 89.4,489.3 89.4,490.1 90.3,490.1 90.3,488.3 91.2,488.3 91.2,490.6 92.1,490.6 92.1,489.8 93.0,489.8 93.0,490.3 93.9,490.3 93.9,488.2 94.8,488.2 94.8,487.7 95.6,487.7 95.6,487.5 96.5,487.5 96.5,489.5 97.4,489.5 97.4,487.8 98.3,487.8 98.3,489.6 99.2,489.6 99.2,490.3 100.1,490.3 100.1,491.2 101.0,491.2 101.0,490.5 101.9,490.5 101.9,491.5 102.8,491.5 102.8,492.5 103.7,492.5 103.7,492.8 104.6,492.8 104.6,490.8 105.5,490.8 105.5,492.2 106.4,492.2 106.4,491.8 107.3,491.8 107.3,491.4 108.2,491.4 108.2,488.6 109.0,488.6 109.0,490.4 109.9,490.4 109.9,487.8 110.8,487.8 110.8,488.2 111.7,488.2 111.7,488.6 112.6,488.6 112.6,489.5 113.5,489.5 113.5,488.8 114.4,488.8 114.4,491.3 115.3,491.3 115.3,491.2 116.2,491.2 116.2,490.7 117.1,490.7 117.1,490.4 118.0,490.4 118.0,489.8 118.9,489.8 118.9,489.2 119.8,489.2 119.8,488.8 120.7,488.8 120.7,489.7 121.6,489.7 121.6,489.9 122.4,489.9 122.4,487.3 123.3,487.3 123.3,487.3 124.2,487.3 124.2,490.0 125.1,490.0 125.1,489.1 126.0,489.1 126.0,489.0 126.9,489.0 126.9,488.5 127.8,488.5 127.8,489.4 128.7,489.4 128.7,490.0 129.6,490.0 129.6,488.0 130.5,488.0 130.5,486.7 131.4,486.7 131.4,484.6 132.3,484.6 132.3,486.1 133.2,486.1 133.2,484.1 134.1,484.1 134.1,485.6 134.9,485.6 134.9,486.7 135.8,486.7 135.8,485.8 136.7,485.8 136.7,488.6 137.6,488.6 137.6,490.3 138.5,490.3 138.5,488.9 139.4,488.9 139.4,488.7 140.3,488.7 140.3,486.3 141.2,486.3 141.2,486.0 142.1,486.0 142.1,483.0 143.0,483.0 143.0,482.7 143.9,482.7 143.9,481.4 144.8,481.4 144.8,482.1 145.7,482.1 145.7,483.8 146.6,483.8 146.6,483.2 147.5,483.2 147.5,482.4 148.3,482.4 148.3,479.9 149.2,479.9 149.2,479.0 150.1,479.0 150.1,478.7 151.0,478.7 151.0,477.2 151.9,477.2 151.9,475.8 152.8,475.8 152.8,476.5 153.7,476.5 153.7,476.3 154.6,476.3 154.6,477.3 155.5,477.3 155.5,478.7 156.4,478.7 156.4,477.8 157.3,477.8 157.3,476.0 158.2,476.0 158.2,474.7 159.1,474.7 159.1,472.1 160.0,472.1 160.0,469.2 160.9,469.2 160.9,467.4 161.7,467.4 161.7,466.3 162.6,466.3 162.6,463.8 163.5,463.8 163.5,459.9 164.4,459.9 164.4,458.7 165.3,458.7 165.3,460.0 166.2,460.0 166.2,461.1 167.1,461.1 167.1,462.3 168.0,462.3 168.0,461.7 168.9,461.7 168.9,458.3 169.8,458.3 169.8,456.9 170.7,456.9 170.7,453.9 171.6,453.9 171.6,452.6 172.5,452.6 172.5,449.7 173.4,449.7 173.4,443.8 174.3,443.8 174.3,437.1 175.1,437.1 175.1,439.3 176.0,439.3 176.0,439.1 176.9,439.1 176.9,440.1 177.8,440.1 177.8,442.1 178.7,442.1 178.7,446.9 179.6,446.9 179.6,445.3 180.5,445.3 180.5,441.3 181.4,441.3 181.4,435.8 182.3,435.8 182.3,432.9 183.2,432.9 183.2,428.7 184.1,428.7 184.1,427.1 185.0,427.1 185.0,425.1 185.9,425.1 185.9,429.1 186.8,429.1 186.8,435.4 187.7,435.4 187.7,443.4 188.5,443.4 188.5,450.3 189.4,450.3 189.4,457.8 190.3,457.8 190.3,464.2 191.2,464.2 191.2,467.6 192.1,467.6 192.1,470.9 193.0,470.9 193.0,472.5 193.9,472.5 193.9,469.0 194.8,469.0 194.8,466.7 195.7,466.7 195.7,464.4 196.6,464.4 196.6,465.7 197.5,465.7 197.5,465.5 198.4,465.5 198.4,463.9 199.3,463.9 199.3,465.8 200.2,465.8 200.2,467.2 201.1,467.2 201.1,468.6 201.9,468.6 201.9,467.1 202.8,467.1 202.8,467.5 203.7,467.5 203.7,465.6 204.6,465.6 204.6,464.5 205.5,464.5 205.5,462.5 206.4,462.5 206.4,461.1 207.3,461.1 207.3,459.3 208.2,459.3 208.2,456.7 209.1,456.7 209.1,455.6 210.0,455.6 210.0,455.2 210.9,455.2 210.9,456.8 211.8,456.8 211.8,458.9 212.7,458.9 212.7,460.4 213.6,460.4 213.6,460.2 214.5,460.2 214.5,462.3 215.3,462.3 215.3,461.8 216.2,461.8 216.2,457.6 217.1,457.6 217.1,455.9 218.0,455.9 218.0,452.6 218.9,452.6 218.9,449.5 219.8,449.5 219.8,446.5 220.7,446.5 220.7,441.3 221.6,441.3 221.6,435.3 222.5,435.3 222.5,425.5 223.4,425.5 223.4,413.5 224.3,413.5 224.3,412.4 225.2,412.4 225.2,413.9 226.1,413.9 226.1,423.9 227.0,423.9 227.0,433.6 227.9,433.6 227.9,441.4 228.7,441.4 228.7,450.2 229.6,450.2 229.6,452.9 230.5,452.9 230.5,458.9 231.4,458.9 231.4,462.7 232.3,462.7 232.3,467.0 233.2,467.0 233.2,469.4 234.1,469.4 234.1,472.1 235.0,472.1 235.0,471.8 235.9,471.8 235.9,471.8 236.8,471.8 236.8,472.0 237.7,472.0 237.7,468.9 238.6,468.9 238.6,468.3 239.5,468.3 239.5,466.4 240.4,466.4 240.4,466.6 241.3,466.6 241.3,467.2 242.1,467.2 242.1,466.4 243.0,466.4 243.0,466.9 243.9,466.9 243.9,469.7 244.8,469.7 244.8,471.0 245.7,471.0 245.7,472.5 246.6,472.5 246.6,474.5 247.5,474.5 247.5,478.4 248.4,478.4 248.4,481.0 249.3,481.0 249.3,480.6 250.2,480.6 250.2,478.8 251.1,478.8 251.1,475.8 252.0,475.8 252.0,473.0 252.9,473.0 252.9,472.4 253.8,472.4 253.8,468.2 254.7,468.2 254.7,467.9 255.5,467.9 255.5,469.7 256.4,469.7 256.4,470.6 257.3,470.6 257.3,471.0 258.2,471.0 258.2,474.0 259.1,474.0 259.1,476.1 260.0,476.1 260.0,475.6 260.9,475.6 260.9,476.7 261.8,476.7 261.8,477.0 262.7,477.0 262.7,477.4 263.6,477.4 263.6,479.1 264.5,479.1 264.5,477.6 265.4,477.6 265.4,479.5 266.3,479.5 266.3,480.5 267.2,480.5 267.2,480.8 268.1,480.8 268.1,481.5 268.9,481.5 268.9,485.3 269.8,485.3 269.8,485.7 270.7,485.7 270.7,486.2 271.6,486.2 271.6,486.6 272.5,486.6 272.5,487.6 273.4,487.6 273.4,485.2 274.3,485.2 274.3,483.6 275.2,483.6 275.2,481.9 276.1,481.9 276.1,478.6 277.0,478.6 277.0,477.9 277.9,477.9 277.9,476.2 278.8,476.2 278.8,474.5 279.7,474.5 279.7,474.7 280.6,474.7 280.6,473.7 281.5,473.7 281.5,470.4 282.3,470.4 282.3,469.9 283.2,469.9 283.2,467.3 284.1,467.3 284.1,465.7 285.0,465.7 285.0,460.7 285.9,460.7 285.9,455.0 286.8,455.0 286.8,450.9 287.7,450.9 287.7,449.7 288.6,449.7 288.6,452.7 289.5,452.7 289.5,454.6 290.4,454.6 290.4,460.1 291.3,460.1 291.3,465.0 292.2,465.0 292.2,470.9 293.1,470.9 293.1,476.3 294.0,476.3 294.0,481.8 294.9,481.8 294.9,487.2 295.7,487.2 295.7,498.1 296.6,498.1 296.6,505.7 297.5,505.7 297.5,514.9 298.4,514.9 298.4,525.4 299.3,525.4 299.3,535.1 300.2,535.1 300.2,542.6 301.1,542.6 301.1,547.3 302.0,547.3 302.0,549.8 302.9,549.8 302.9,551.2 302.9,551.2" fill="none" stroke="#e34848" stroke-width="0.45"/>
<polyline points="34.9,546.1 35.8,546.1 35.8,540.8 36.7,540.8 36.7,537.6 37.6,537.6 37.6,530.5 38.5,530.5 38.5,525.7 39.4,525.7 39.4,518.8 40.3,518.8 40.3,511.5 41.2,511.5 41.2,506.8 42.0,506.8 42.0,499.2 42.9,499.2 42.9,494.4 43.8,494.4 43.8,487.7 44.7,487.7 44.7,482.3 45.6,482.3 45.6,477.9 46.5,477.9 46.5,474.4 47.4,474.4 47.4,467.6 48.3,467.6 48.3,463.4 49.2,463.4 49.2,461.3 50.1,461.3 50.1,459.7 51.0,459.7 51.0,455.9 51.9,455.9 51.9,452.1 52.8,452.1 52.8,449.5 53.7,449.5 53.7,442.1 54.6,442.1 54.6,440.2 55.4,440.2 55.4,436.4 56.3,436.4 56.3,443.2 57.2,443.2 57.2,432.2 58.1,432.2 58.1,424.6 59.0,424.6 59.0,435.5 59.9,435.5 59.9,428.5 60.8,428.5 60.8,423.6 61.7,423.6 61.7,435.6 62.6,435.6 62.6,438.5 63.5,438.5 63.5,437.5 64.4,437.5 64.4,432.8 65.3,432.8 65.3,429.0 66.2,429.0 66.2,425.8 67.1,425.8 67.1,423.7 68.0,423.7 68.0,416.0 68.8,416.0 68.8,413.0 69.7,413.0 69.7,420.6 70.6,420.6 70.6,426.0 71.5,426.0 71.5,430.9 72.4,430.9 72.4,438.5 73.3,438.5 73.3,444.8 74.2,444.8 74.2,449.9 75.1,449.9 75.1,455.6 76.0,455.6 76.0,459.9 76.9,459.9 76.9,464.6 77.8,464.6 77.8,467.5 78.7,467.5 78.7,469.7 79.6,469.7 79.6,477.6 80.5,477.6 80.5,473.5 81.4,473.5 81.4,473.1 82.2,473.1 82.2,474.1 83.1,474.1 83.1,473.1 84.0,473.1 84.0,475.1 84.9,475.1 84.9,475.0 85.8,475.0 85.8,478.3 86.7,478.3 86.7,479.7 87.6,479.7 87.6,480.0 88.5,480.0 88.5,481.8 89.4,481.8 89.4,480.6 90.3,480.6 90.3,482.5 91.2,482.5 91.2,482.7 92.1,482.7 92.1,482.6 93.0,482.6 93.0,481.6 93.9,481.6 93.9,482.3 94.8,482.3 94.8,482.0 95.6,482.0 95.6,481.6 96.5,481.6 96.5,483.6 97.4,483.6 97.4,482.4 98.3,482.4 98.3,484.4 99.2,484.4 99.2,484.3 100.1,484.3 100.1,485.4 101.0,485.4 101.0,485.5 101.9,485.5 101.9,484.7 102.8,484.7 102.8,485.4 103.7,485.4 103.7,485.4 104.6,485.4 104.6,482.4 105.5,482.4 105.5,483.4 106.4,483.4 106.4,482.2 107.3,482.2 107.3,481.7 108.2,481.7 108.2,481.4 109.0,481.4 109.0,484.1 109.9,484.1 109.9,482.5 110.8,482.5 110.8,482.5 111.7,482.5 111.7,482.4 112.6,482.4 112.6,483.3 113.5,483.3 113.5,480.3 114.4,480.3 114.4,482.7 115.3,482.7 115.3,484.2 116.2,484.2 116.2,486.5 117.1,486.5 117.1,486.8 118.0,486.8 118.0,486.3 118.9,486.3 118.9,483.9 119.8,483.9 119.8,483.7 120.7,483.7 120.7,482.4 121.6,482.4 121.6,482.8 122.4,482.8 122.4,481.7 123.3,481.7 123.3,477.8 124.2,477.8 124.2,476.5 125.1,476.5 125.1,475.0 126.0,475.0 126.0,475.8 126.9,475.8 126.9,479.9 127.8,479.9 127.8,482.8 128.7,482.8 128.7,480.9 129.6,480.9 129.6,479.2 130.5,479.2 130.5,477.7 131.4,477.7 131.4,475.7 132.3,475.7 132.3,476.3 133.2,476.3 133.2,477.6 134.1,477.6 134.1,480.3 134.9,480.3 134.9,481.2 135.8,481.2 135.8,482.5 136.7,482.5 136.7,482.8 137.6,482.8 137.6,479.5 138.5,479.5 138.5,480.9 139.4,480.9 139.4,480.6 140.3,480.6 140.3,481.2 141.2,481.2 141.2,481.2 142.1,481.2 142.1,478.9 143.0,478.9 143.0,470.9 143.9,470.9 143.9,468.9 144.8,468.9 144.8,470.1 145.7,470.1 145.7,471.7 146.6,471.7 146.6,475.4 147.5,475.4 147.5,474.6 148.3,474.6 148.3,473.2 149.2,473.2 149.2,472.0 150.1,472.0 150.1,469.1 151.0,469.1 151.0,466.8 151.9,466.8 151.9,465.1 152.8,465.1 152.8,462.7 153.7,462.7 153.7,462.7 154.6,462.7 154.6,464.1 155.5,464.1 155.5,469.4 156.4,469.4 156.4,467.6 157.3,467.6 157.3,464.4 158.2,464.4 158.2,463.0 159.1,463.0 159.1,460.6 160.0,460.6 160.0,457.9 160.9,457.9 160.9,454.4 161.7,454.4 161.7,454.1 162.6,454.1 162.6,451.9 163.5,451.9 163.5,447.2 164.4,447.2 164.4,444.1 165.3,444.1 165.3,440.5 166.2,440.5 166.2,439.5 167.1,439.5 167.1,439.1 168.0,439.1 168.0,438.7 168.9,438.7 168.9,440.9 169.8,440.9 169.8,439.2 170.7,439.2 170.7,438.8 171.6,438.8 171.6,439.5 172.5,439.5 172.5,435.8 173.4,435.8 173.4,429.4 174.3,429.4 174.3,422.1 175.1,422.1 175.1,417.2 176.0,417.2 176.0,418.1 176.9,418.1 176.9,420.0 177.8,420.0 177.8,424.2 178.7,424.2 178.7,426.2 179.6,426.2 179.6,425.4 180.5,425.4 180.5,426.0 181.4,426.0 181.4,420.0 182.3,420.0 182.3,416.4 183.2,416.4 183.2,405.2 184.1,405.2 184.1,397.1 185.0,397.1 185.0,391.0 185.9,391.0 185.9,397.9 186.8,397.9 186.8,415.7 187.7,415.7 187.7,430.9 188.5,430.9 188.5,441.8 189.4,441.8 189.4,448.6 190.3,448.6 190.3,452.9 191.2,452.9 191.2,455.6 192.1,455.6 192.1,456.8 193.0,456.8 193.0,458.3 193.9,458.3 193.9,458.2 194.8,458.2 194.8,457.6 195.7,457.6 195.7,457.6 196.6,457.6 196.6,457.9 197.5,457.9 197.5,457.5 198.4,457.5 198.4,458.4 199.3,458.4 199.3,458.8 200.2,458.8 200.2,456.7 201.1,456.7 201.1,457.8 201.9,457.8 201.9,457.8 202.8,457.8 202.8,457.4 203.7,457.4 203.7,454.2 204.6,454.2 204.6,452.4 205.5,452.4 205.5,451.1 206.4,451.1 206.4,448.6 207.3,448.6 207.3,445.8 208.2,445.8 208.2,444.4 209.1,444.4 209.1,443.8 210.0,443.8 210.0,442.3 210.9,442.3 210.9,442.1 211.8,442.1 211.8,445.2 212.7,445.2 212.7,447.8 213.6,447.8 213.6,445.0 214.5,445.0 214.5,446.3 215.3,446.3 215.3,445.8 216.2,445.8 216.2,442.6 217.1,442.6 217.1,439.7 218.0,439.7 218.0,435.8 218.9,435.8 218.9,431.6 219.8,431.6 219.8,429.6 220.7,429.6 220.7,421.2 221.6,421.2 221.6,415.8 222.5,415.8 222.5,408.9 223.4,408.9 223.4,399.4 224.3,399.4 224.3,398.3 225.2,398.3 225.2,401.8 226.1,401.8 226.1,407.9 227.0,407.9 227.0,414.2 227.9,414.2 227.9,424.4 228.7,424.4 228.7,433.1 229.6,433.1 229.6,441.8 230.5,441.8 230.5,447.7 231.4,447.7 231.4,450.3 232.3,450.3 232.3,457.1 233.2,457.1 233.2,460.7 234.1,460.7 234.1,459.0 235.0,459.0 235.0,457.4 235.9,457.4 235.9,456.4 236.8,456.4 236.8,453.1 237.7,453.1 237.7,450.9 238.6,450.9 238.6,452.3 239.5,452.3 239.5,449.5 240.4,449.5 240.4,449.3 241.3,449.3 241.3,451.7 242.1,451.7 242.1,451.3 243.0,451.3 243.0,450.0 243.9,450.0 243.9,446.7 244.8,446.7 244.8,442.5 245.7,442.5 245.7,441.7 246.6,441.7 246.6,447.4 247.5,447.4 247.5,455.0 248.4,455.0 248.4,458.9 249.3,458.9 249.3,460.3 250.2,460.3 250.2,461.6 251.1,461.6 251.1,459.4 252.0,459.4 252.0,460.7 252.9,460.7 252.9,461.2 253.8,461.2 253.8,464.2 254.7,464.2 254.7,464.4 255.5,464.4 255.5,462.9 256.4,462.9 256.4,459.3 257.3,459.3 257.3,463.7 258.2,463.7 258.2,465.1 259.1,465.1 259.1,466.8 260.0,466.8 260.0,465.6 260.9,465.6 260.9,462.9 261.8,462.9 261.8,462.7 262.7,462.7 262.7,460.0 263.6,460.0 263.6,457.6 264.5,457.6 264.5,459.3 265.4,459.3 265.4,458.1 266.3,458.1 266.3,462.9 267.2,462.9 267.2,467.6 268.1,467.6 268.1,470.3 268.9,470.3 268.9,472.2 269.8,472.2 269.8,475.2 270.7,475.2 270.7,477.2 271.6,477.2 271.6,479.8 272.5,479.8 272.5,476.9 273.4,476.9 273.4,476.7 274.3,476.7 274.3,474.1 275.2,474.1 275.2,471.9 276.1,471.9 276.1,471.2 277.0,471.2 277.0,468.0 277.9,468.0 277.9,465.6 278.8,465.6 278.8,463.7 279.7,463.7 279.7,463.3 280.6,463.3 280.6,461.2 281.5,461.2 281.5,461.2 282.3,461.2 282.3,461.5 283.2,461.5 283.2,462.1 284.1,462.1 284.1,461.0 285.0,461.0 285.0,456.6 285.9,456.6 285.9,450.4 286.8,450.4 286.8,443.6 287.7,443.6 287.7,442.3 288.6,442.3 288.6,441.6 289.5,441.6 289.5,446.8 290.4,446.8 290.4,452.0 291.3,452.0 291.3,455.0 292.2,455.0 292.2,461.5 293.1,461.5 293.1,468.5 294.0,468.5 294.0,475.1 294.9,475.1 294.9,480.0 295.7,480.0 295.7,487.4 296.6,487.4 296.6,495.4 297.5,495.4 297.5,501.2 298.4,501.2 298.4,514.4 299.3,514.4 299.3,525.5 300.2,525.5 300.2,536.0 301.1,536.0 301.1,543.0 302.0,543.0 302.0,548.0 302.9,548.0 302.9,546.4 302.9,546.4" fill="none" stroke="#4a8fcb" stroke-width="0.45"/>
<line x1="86.5" y1="376.2" x2="86.5" y2="562.9" stroke="#9a9a9a" stroke-width="0.45" stroke-dasharray="1.3,1.3"/>
<line x1="102.4" y1="376.2" x2="102.4" y2="562.9" stroke="#9a9a9a" stroke-width="0.45" stroke-dasharray="1.3,1.3"/>
<line x1="122.6" y1="376.2" x2="122.6" y2="562.9" stroke="#9a9a9a" stroke-width="0.45" stroke-dasharray="1.3,1.3"/>
<line x1="173.4" y1="376.2" x2="173.4" y2="562.9" stroke="#9a9a9a" stroke-width="0.45" stroke-dasharray="1.3,1.3"/>
<line x1="193.3" y1="376.2" x2="193.3" y2="562.9" stroke="#9a9a9a" stroke-width="0.45" stroke-dasharray="1.3,1.3"/>
<line x1="211.8" y1="376.2" x2="211.8" y2="562.9" stroke="#9a9a9a" stroke-width="0.45" stroke-dasharray="1.3,1.3"/>
<line x1="224.8" y1="376.2" x2="224.8" y2="562.9" stroke="#9a9a9a" stroke-width="0.45" stroke-dasharray="1.3,1.3"/>
<line x1="253.5" y1="376.2" x2="253.5" y2="562.9" stroke="#9a9a9a" stroke-width="0.45" stroke-dasharray="1.3,1.3"/>
<line x1="289.3" y1="376.2" x2="289.3" y2="562.9" stroke="#9a9a9a" stroke-width="0.45" stroke-dasharray="1.3,1.3"/>
<g><rect x="90.5" y="381.7" width="23.8" height="7.4" rx="1.2" ry="1.2" fill="#fff" stroke="#444" stroke-width="0.45"/><text x="102.4" y="387.4" font-size="5.5" fill="#222" text-anchor="middle">p &lt; 0.01</text></g>
<g><rect x="74.7" y="381.7" width="23.8" height="7.4" rx="1.2" ry="1.2" fill="#fff" stroke="#444" stroke-width="0.45"/><text x="86.6" y="387.4" font-size="5.5" fill="#222" text-anchor="middle">p &lt; 0.01</text></g>
<g><rect x="110.7" y="381.7" width="23.8" height="7.4" rx="1.2" ry="1.2" fill="#fff" stroke="#444" stroke-width="0.45"/><text x="122.6" y="387.4" font-size="5.5" fill="#222" text-anchor="middle">p &lt; 0.01</text></g>
<g><rect x="161.7" y="381.7" width="23.8" height="7.4" rx="1.2" ry="1.2" fill="#fff" stroke="#444" stroke-width="0.45"/><text x="173.6" y="387.4" font-size="5.5" fill="#222" text-anchor="middle">p = 0.01</text></g>
<g><rect x="181.4" y="381.7" width="23.8" height="7.4" rx="1.2" ry="1.2" fill="#fff" stroke="#444" stroke-width="0.45"/><text x="193.3" y="387.4" font-size="5.5" fill="#222" text-anchor="middle">p &lt; 0.01</text></g>
<g><rect x="212.9" y="381.7" width="23.8" height="7.4" rx="1.2" ry="1.2" fill="#fff" stroke="#444" stroke-width="0.45"/><text x="224.8" y="387.4" font-size="5.5" fill="#222" text-anchor="middle">p &lt; 0.01</text></g>
<g><rect x="241.3" y="381.7" width="23.8" height="7.4" rx="1.2" ry="1.2" fill="#fff" stroke="#444" stroke-width="0.45"/><text x="253.2" y="387.4" font-size="5.5" fill="#222" text-anchor="middle">p &lt; 0.01</text></g>
<g><rect x="178.0" y="381.7" width="66.6" height="7.4" rx="1.2" ry="1.2" fill="#fff" stroke="#444" stroke-width="0.45"/><text x="211.3" y="387.4" font-size="5.5" fill="#222" text-anchor="middle">p = 0.0000000000000001</text></g>
<g><rect x="277.4" y="381.7" width="23.8" height="7.4" rx="1.2" ry="1.2" fill="#fff" stroke="#444" stroke-width="0.45"/><text x="289.3" y="387.4" font-size="5.5" fill="#222" text-anchor="middle">p = 0.01</text></g>
<line x1="276" y1="409.3" x2="283.6" y2="409.3" stroke="#e34848" stroke-width="0.6"/>
<text x="287" y="411" font-size="4.6" fill="#111">q0.9</text>
<line x1="276" y1="418.5" x2="283.6" y2="418.5" stroke="#4a8fcb" stroke-width="0.6"/>
<text x="287" y="420.2" font-size="4.6" fill="#111">q0.95</text>

<line x1="19.9" y1="415.5" x2="21.5" y2="415.5" stroke="#333" stroke-width="0.5"/>
<text x="19.1" y="417.1" font-size="4.6" fill="#4d4d4d" text-anchor="end">0.09</text>
<line x1="19.9" y1="461.9" x2="21.5" y2="461.9" stroke="#333" stroke-width="0.5"/>
<text x="19.1" y="463.5" font-size="4.6" fill="#4d4d4d" text-anchor="end">0.06</text>
<line x1="19.9" y1="508.3" x2="21.5" y2="508.3" stroke="#333" stroke-width="0.5"/>
<text x="19.1" y="509.9" font-size="4.6" fill="#4d4d4d" text-anchor="end">0.03</text>
<line x1="19.9" y1="554.7" x2="21.5" y2="554.7" stroke="#333" stroke-width="0.5"/>
<text x="19.1" y="556.3" font-size="4.6" fill="#4d4d4d" text-anchor="end">0.00</text>
<text transform="translate(7.4,469.7) rotate(-90)" font-size="5.65" fill="#000" text-anchor="middle">Shift Frequency</text>
<line x1="34.5" y1="562.9" x2="34.5" y2="564.5" stroke="#333" stroke-width="0.5"/>
<text x="34.5" y="570.2" font-size="4.6" fill="#4d4d4d" text-anchor="middle">10000</text>
<line x1="123.8" y1="562.9" x2="123.8" y2="564.5" stroke="#333" stroke-width="0.5"/>
<text x="123.8" y="570.2" font-size="4.6" fill="#4d4d4d" text-anchor="middle">9000</text>
<line x1="213.2" y1="562.9" x2="213.2" y2="564.5" stroke="#333" stroke-width="0.5"/>
<text x="213.2" y="570.2" font-size="4.6" fill="#4d4d4d" text-anchor="middle">8000</text>
<line x1="302.6" y1="562.9" x2="302.6" y2="564.5" stroke="#333" stroke-width="0.5"/>
<text x="302.6" y="570.2" font-size="4.6" fill="#4d4d4d" text-anchor="middle">7000</text>
<text transform="translate(169.2,577) scale(1,1.08)" font-size="5.45" fill="#000" text-anchor="middle">age (yr BP)</text>
</g>
<rect x="21.5" y="3.4" width="294.8" height="559.5" fill="none" stroke="#5c5c5c" stroke-width="0.6"/><line x1="21.5" y1="184.4" x2="316.3" y2="184.4" stroke="#5c5c5c" stroke-width="0.7"/><line x1="21.5" y1="376.2" x2="316.3" y2="376.2" stroke="#5c5c5c" stroke-width="0.7"/>
</svg></body></html>
